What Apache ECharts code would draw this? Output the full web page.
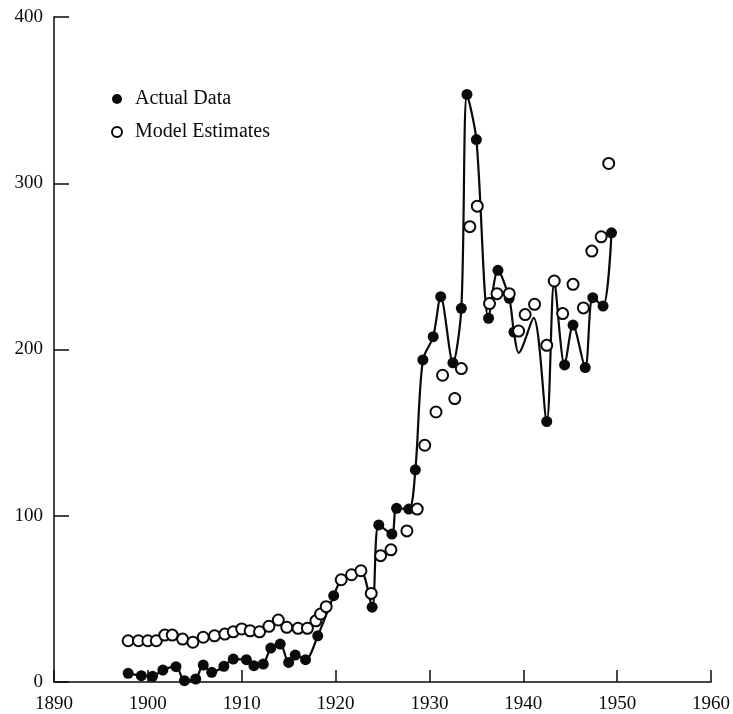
<!DOCTYPE html>
<html>
<head>
<meta charset="utf-8">
<script src="https://cdn.jsdelivr.net/npm/echarts@6/dist/echarts.min.js"></script>
<style>
html,body{margin:0;padding:0;background:#fff;}
#chart{width:733px;height:714px;}
</style>
</head>
<body>
<div id="chart"></div>
<script>
// Data
const actualYears = [1897.9,1899.3,1900.5,1901.6,1903.0,1903.9,1905.1,1905.9,1906.8,1908.1,1909.1,1910.5,1911.3,1912.3,1913.1,1914.1,1915.0,1915.7,1916.8,1918.1,1919.8,1920.6,1921.7,1922.7,1923.9,1924.6,1926.0,1926.5,1927.8,1928.5,1929.3,1930.4,1931.2,1932.5,1933.4,1934.0,1935.0,1936.3,1937.3,1938.5,1939.0,1939.5,1941.1,1942.5,1943.3,1944.4,1945.3,1946.6,1947.4,1948.5,1949.4];
const actualValues = [5.2,3.8,3.4,7.2,9.2,0.8,1.8,10.2,5.8,9.4,13.8,13.4,9.8,10.8,20.4,22.8,11.8,16.2,13.4,27.8,51.9,61.5,64.5,66.9,45,94.5,89,104.5,104,127.6,193.7,207.7,231.8,192,224.8,353.4,326.3,218.8,247.6,230.8,210.5,198,219,156.7,241,190.7,214.7,189.1,231.2,226.1,270.2];
// 1 = marker visible in the picture, 0 = curve only (marker hidden / absent)
const actualMarker = [1,1,1,1,1,1,1,1,1,1,1,1,1,1,1,1,1,1,1,1,1,0,0,0,1,1,1,1,1,1,1,1,1,1,1,1,1,1,1,1,1,0,0,1,0,1,1,1,1,1,1];

const modelYears = [1897.9,1899.0,1900.0,1900.9,1901.8,1902.6,1903.7,1904.8,1905.9,1907.1,1908.2,1909.1,1910.0,1910.9,1911.9,1912.9,1913.9,1914.8,1916.0,1917.0,1917.9,1918.4,1919.0,1920.6,1921.7,1922.7,1923.8,1924.8,1925.9,1927.6,1928.7,1929.5,1930.7,1931.4,1932.7,1933.4,1934.3,1935.1,1936.4,1937.2,1938.5,1939.5,1940.2,1941.2,1942.5,1943.3,1944.2,1945.3,1946.4,1947.3,1948.3,1949.1];
const modelValues = [24.8,24.8,24.8,24.8,28.2,28.2,25.8,23.9,26.9,27.8,28.8,30.2,31.9,30.8,30.2,33.5,37.3,32.9,32.3,32.3,36.8,40.9,45.3,61.5,64.5,66.9,53.3,76,79.5,90.9,104,142.4,162.4,184.5,170.5,188.5,273.9,286.2,227.6,233.6,233.6,211.1,221,227.2,202.5,241.2,221.6,239.2,225,259.2,267.8,311.9];

const xMin = 1890, xMax = 1960, xStep = 10;
const yMin = 0, yMax = 400, yStep = 100;
const seriesNames = ['Actual Data', 'Model Estimates'];

const curveData = actualYears.map((y, i) => [y, actualValues[i]]);
const actualPoints = actualYears.map((y, i) => [y, actualValues[i]]).filter((p, i) => actualMarker[i] === 1);
const modelPoints = modelYears.map((y, i) => [y, modelValues[i]]);

const ink = '#0a0a0a';
const font = 'Liberation Serif';

const chart = echarts.init(document.getElementById('chart'), null, {renderer: 'canvas'});
chart.setOption({
  backgroundColor: '#fff',
  animation: false,
  grid: {left: 54, right: 21, top: 17, bottom: 31, containLabel: false},
  legend: {
    orient: 'vertical',
    left: 106,
    top: 84,
    itemWidth: 10,
    itemHeight: 10,
    itemGap: 13,
    selectedMode: false,
    textStyle: {fontFamily: font, fontSize: 20, color: ink, padding: [0, 0, 0, 8]},
    data: [
      {name: seriesNames[0], icon: 'circle'},
      {name: seriesNames[1], icon: 'circle'}
    ]
  },
  xAxis: {
    type: 'value',
    min: xMin, max: xMax, interval: xStep,
    axisLine: {show: true, lineStyle: {color: ink, width: 1.5}},
    axisTick: {show: true, inside: true, length: 12, lineStyle: {color: ink, width: 1.5}},
    splitLine: {show: false},
    axisLabel: {fontFamily: font, fontSize: 19, color: ink, margin: 13, formatter: v => String(v)}
  },
  yAxis: {
    type: 'value',
    min: yMin, max: yMax, interval: yStep,
    axisLine: {show: true, lineStyle: {color: ink, width: 1.5}},
    axisTick: {show: true, inside: true, length: 15, lineStyle: {color: ink, width: 1.5}},
    splitLine: {show: false},
    axisLabel: {fontFamily: font, fontSize: 19, color: ink, margin: 11, formatter: v => String(v)}
  },
  series: [
    {
      name: 'curve',
      type: 'line',
      data: curveData,
      smooth: 0.3,
      showSymbol: false,
      symbol: 'none',
      lineStyle: {color: ink, width: 2.2},
      z: 2,
      silent: true
    },
    {
      name: seriesNames[0],
      type: 'scatter',
      data: actualPoints,
      symbol: 'circle',
      symbolSize: 11,
      itemStyle: {color: ink, opacity: 1},
      z: 3
    },
    {
      name: seriesNames[1],
      type: 'scatter',
      data: modelPoints,
      symbol: 'circle',
      symbolSize: 11,
      itemStyle: {color: '#fff', borderColor: ink, borderWidth: 2, opacity: 1},
      z: 4
    }
  ]
});
</script>
</body>
</html>
